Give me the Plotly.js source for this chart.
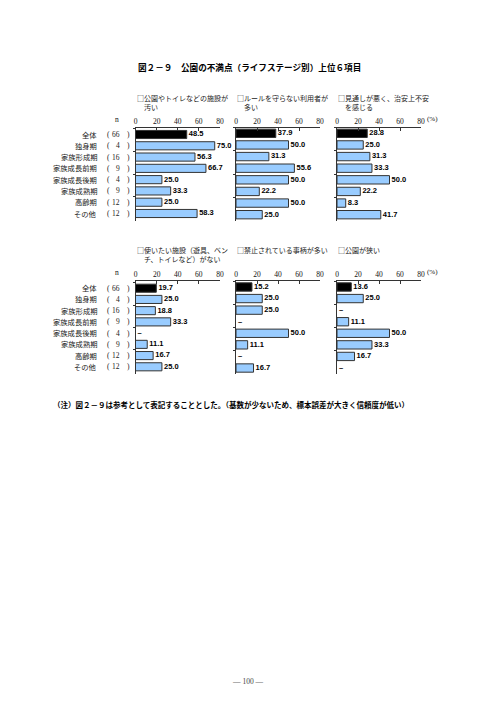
<!DOCTYPE html>
<html>
<head>
<meta charset="utf-8">
<script src="https://cdn.plot.ly/plotly-3.0.1.min.js"></script>
<style>html,body{margin:0;padding:0;background:#fff;}#chart{width:496px;height:702px;}</style>
</head>
<body>
<div id="chart"></div>
<script>
const categories = ["全体", "独身期", "家族形成期", "家族成長前期", "家族成長後期", "家族成熟期", "高齢期", "その他"];
const nValues = [66, 4, 16, 9, 4, 9, 12, 12];
const captions = [
  "□公園やトイレなどの施設が<br>　汚い",
  "□ルールを守らない利用者が<br>　多い",
  "□見通しが悪く、治安上不安<br>　を感じる",
  "□使いたい施設（遊具、ベン<br>　チ、トイレなど）がない",
  "□禁止されている事柄が多い",
  "□公園が狭い"
];
const tickValues = [0, 20, 40, 60, 80];
const dirtyFacilities = [48.5, 75.0, 56.3, 66.7, 25.0, 33.3, 25.0, 58.3];
const rudeUsers = [37.9, 50.0, 31.3, 55.6, 50.0, 22.2, 50.0, 25.0];
const unsafeView = [28.8, 25.0, 31.3, 33.3, 50.0, 22.2, 8.3, 41.7];
const noFacilities = [19.7, 25.0, 18.8, 33.3, null, 11.1, 16.7, 25.0];
const tooManyBans = [15.2, 25.0, 25.0, null, 50.0, 11.1, null, 16.7];
const tooSmall = [13.6, 25.0, null, 11.1, 50.0, 33.3, 16.7, null];
const series = [dirtyFacilities, rudeUsers, unsafeView, noFacilities, tooManyBans, tooSmall];

const W = 496, H = 702;
const colX = [[135.5, 220], [236, 320], [337, 421]];
const rowY = [[127.5, 220.5], [281.2, 373.8]];
const px = v => v / W;
const py = v => 1 - v / H;

const jpFont = '"Noto Sans CJK JP", sans-serif';
const serifFont = '"Liberation Serif", "DejaVu Serif", serif';
const valFont = {family: '"Liberation Sans", Arial, sans-serif', size: 7.5, color: '#000', weight: 'bold'};

const data = [];
const layout = {
  width: W, height: H,
  margin: {l: 0, r: 0, t: 0, b: 0},
  paper_bgcolor: '#fff', plot_bgcolor: '#fff',
  showlegend: false,
  annotations: [],
  font: {family: jpFont, color: '#000'}
};

series.forEach((vals, i) => {
  const row = Math.floor(i / 3), col = i % 3;
  const sfx = i === 0 ? '' : String(i + 1);
  const xa = 'x' + sfx, ya = 'y' + sfx;
  data.push({
    type: 'bar', orientation: 'h', xaxis: xa, yaxis: ya,
    x: vals, y: categories, width: 0.72,
    marker: {color: categories.map((c, k) => k === 0 ? '#000000' : '#99CCFF'),
             line: {color: '#333333', width: 1}},
    hoverinfo: 'skip'
  });
  data.push({
    type: 'scatter', mode: 'text', xaxis: xa, yaxis: ya,
    x: vals.map(v => v === null ? 0 : v), y: categories,
    text: vals.map(v => '\u00a0' + (v === null ? '–' : v.toFixed(1))),
    textposition: 'middle right', cliponaxis: false,
    textfont: valFont, hoverinfo: 'skip'
  });
  layout['xaxis' + sfx] = {
    domain: [px(colX[col][0]), px(colX[col][1])],
    anchor: ya, side: 'top', range: [0, 80],
    tickvals: tickValues, ticktext: tickValues.map(String),
    ticks: 'inside', ticklen: 3, tickcolor: '#333',
    showline: true, linecolor: '#333', linewidth: 1,
    showgrid: false, zeroline: false, fixedrange: true,
    tickfont: {family: serifFont, size: 7.5, color: '#111111'}
  };
  layout['yaxis' + sfx] = {
    domain: [py(rowY[row][1]), py(rowY[row][0])],
    anchor: xa, type: 'category', autorange: 'reversed',
    showticklabels: false, showline: true, linecolor: '#333', linewidth: 1,
    ticks: 'outside', ticklen: 2, tickson: 'boundaries', tickcolor: '#333',
    showgrid: false, zeroline: false, fixedrange: true
  };
  layout.annotations.push({
    xref: 'paper', yref: 'paper', x: px(colX[col][0] - 1), y: py(row === 0 ? 91 : 243),
    xanchor: 'left', yanchor: 'top', align: 'left', showarrow: false,
    text: captions[i], font: {family: jpFont, size: 7, color: '#222'}
  });
});

// category labels and n column for each row
[['y', 119], ['y4', 272]].forEach(([yr, nY]) => {
  categories.forEach((c, k) => {
    layout.annotations.push({xref: 'paper', yref: yr, x: px(99), y: c, xanchor: 'right', yanchor: 'middle',
      showarrow: false, text: c, font: {family: jpFont, size: 7.3, color: '#222'}});
    layout.annotations.push({xref: 'paper', yref: yr, x: px(104.5), y: c, xanchor: 'left', yanchor: 'middle',
      showarrow: false, text: '(', font: {family: serifFont, size: 7.5, color: '#222'}});
    layout.annotations.push({xref: 'paper', yref: yr, x: px(121.5), y: c, xanchor: 'right', yanchor: 'middle',
      showarrow: false, text: String(nValues[k]), font: {family: serifFont, size: 7.5, color: '#222'}});
    layout.annotations.push({xref: 'paper', yref: yr, x: px(124.5), y: c, xanchor: 'left', yanchor: 'middle',
      showarrow: false, text: ')', font: {family: serifFont, size: 7.5, color: '#222'}});
  });
  layout.annotations.push({xref: 'paper', yref: 'paper', x: px(117), y: py(nY), xanchor: 'center', yanchor: 'middle',
    showarrow: false, text: 'n', font: {family: serifFont, size: 7.5, color: '#111'}});
  layout.annotations.push({xref: 'paper', yref: 'paper', x: px(425), y: py(nY), xanchor: 'left', yanchor: 'middle',
    showarrow: false, text: '(%)', font: {family: serifFont, size: 7, color: '#111'}});
});

layout.annotations.push({xref: 'paper', yref: 'paper', x: px(249), y: py(67), xanchor: 'center', yanchor: 'middle',
  showarrow: false, text: '図２－９　公園の不満点（ライフステージ別）上位６項目',
  font: {family: jpFont, size: 8.6, color: '#000', weight: 'bold'}});
layout.annotations.push({xref: 'paper', yref: 'paper', x: px(51), y: py(405), xanchor: 'left', yanchor: 'middle',
  showarrow: false, text: '（注）図２－９は参考として表記することとした。（基数が少ないため、標本誤差が大きく信頼度が低い）',
  font: {family: jpFont, size: 7.5, color: '#000', weight: 'bold'}});
layout.annotations.push({xref: 'paper', yref: 'paper', x: px(248), y: py(681), xanchor: 'center', yanchor: 'middle',
  showarrow: false, text: '— 100 —', font: {family: serifFont, size: 7.5, color: '#444'}});

Plotly.newPlot('chart', data, layout, {staticPlot: true, displayModeBar: false});
</script>
</body>
</html>
